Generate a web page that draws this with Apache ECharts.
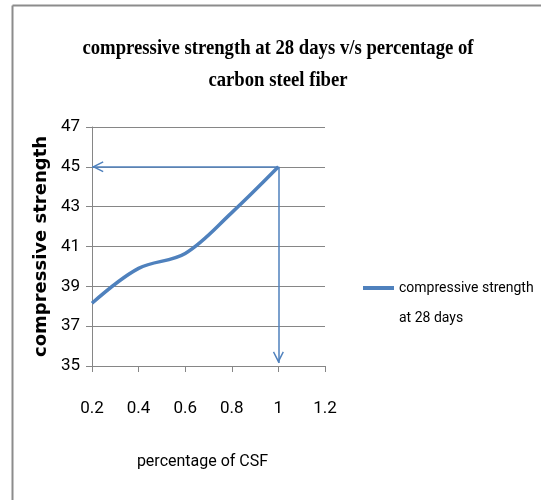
<!DOCTYPE html>
<html>
<head>
<meta charset="utf-8">
<script src="https://cdn.jsdelivr.net/npm/echarts@6/dist/echarts.min.js"></script>
<style>
  html, body { margin: 0; padding: 0; background: #fff; }
  #main { width: 541px; height: 500px; }
</style>
</head>
<body>
<div id="main"></div>
<script>
// percentage of carbon steel fiber vs compressive strength at 28 days
var csf = [0.2, 0.4, 0.6, 0.8, 1.0];
var strength = [38.15, 39.9, 40.65, 42.7, 45.0];
var seriesName = 'compressive strength at 28 days';
var pickX = 1.0, pickY = 45;

var blue = '#4F81BD';
var narrow = 'Roboto, "Liberation Sans", sans-serif';
// open arrow head, tip in the middle of the box so it lands on the line end
var openArrow = 'path://M5,0 L5.01,0 Z M5,11.35 L10,22.35 L8.9,23 L5,14.65 L1.1,23 L0,22.35 Z';
// legend line sits at the top of a taller (empty) box so it lines up with the first text line
var legendIcon = 'path://M0,0 L31,0 L31,4 L0,4 Z M0,34 L0.01,34 L0,34 Z';

var myChart = echarts.init(document.getElementById('main'));

var option = {
    backgroundColor: '#fff',
    animation: false,
    graphic: [
        { type: 'line', shape: { x1: 12.5, y1: 5.5, x2: 541, y2: 5.5 }, style: { stroke: '#8c8c8c', lineWidth: 2 } },
        { type: 'line', shape: { x1: 12.5, y1: 5.5, x2: 12.5, y2: 500 }, style: { stroke: '#8c8c8c', lineWidth: 2 } },
        {
            type: 'text', x: 278, y: 48, scaleX: 0.85,
            style: {
                x: 0, y: 0,
                text: 'compressive strength at 28 days v/s percentage of',
                font: 'bold 22px "Liberation Serif", serif',
                fill: '#000', align: 'center', verticalAlign: 'middle'
            }
        },
        {
            type: 'text', x: 278, y: 80, scaleX: 0.85,
            style: {
                x: 0, y: 0,
                text: 'carbon steel fiber',
                font: 'bold 22px "Liberation Serif", serif',
                fill: '#000', align: 'center', verticalAlign: 'middle'
            }
        }
    ],
    grid: { left: 92, right: 216, top: 127, bottom: 134 },
    legend: {
        left: 358, top: 268,
        itemWidth: 31, itemHeight: 34, itemGap: 0,
        icon: legendIcon,
        formatter: function () { return 'compressive strength\nat 28 days'; },
        textStyle: { fontFamily: narrow, fontSize: 14, color: '#000', lineHeight: 30 },
        data: [seriesName]
    },
    xAxis: {
        type: 'value', min: 0.2, max: 1.2, interval: 0.2,
        name: 'percentage of CSF', nameLocation: 'middle', nameGap: 88,
        nameTextStyle: { fontFamily: narrow, fontSize: 16, color: '#000', padding: [0, 12, 0, 0] },
        axisLine: { lineStyle: { color: '#868686' } },
        axisTick: { show: true, length: 6, lineStyle: { color: '#868686' } },
        axisLabel: {
            margin: 34, color: '#000', fontSize: 17, fontFamily: narrow,
            formatter: function (v) { return String(Math.round(v * 10) / 10); }
        },
        splitLine: { show: false }
    },
    yAxis: {
        type: 'value', min: 35, max: 47, interval: 2,
        name: 'compressive strength', nameLocation: 'middle', nameGap: 42,
        nameTextStyle: { fontFamily: '"DejaVu Sans", sans-serif', fontWeight: 'bold', fontSize: 18, color: '#000' },
        axisLine: { show: true, lineStyle: { color: '#868686' } },
        axisTick: { show: true, length: 6, lineStyle: { color: '#868686' } },
        axisLabel: { margin: 12, color: '#000', fontSize: 17, fontFamily: narrow },
        splitLine: { lineStyle: { color: '#868686' } }
    },
    series: [{
        name: seriesName,
        type: 'line',
        smooth: 0.35,
        showSymbol: false,
        symbol: 'none',
        lineStyle: { color: blue, width: 3.5 },
        itemStyle: { color: blue },
        data: csf.map(function (x, i) { return [x, strength[i]]; }),
        markLine: {
            silent: true,
            symbol: ['none', openArrow],
            symbolSize: [11, 23],
            label: { show: false },
            lineStyle: { color: blue, width: 1.5, type: 'solid' },
            data: [
                [{ coord: [pickX, pickY] }, { coord: [csf[0], pickY] }],
                [{ coord: [pickX, pickY] }, { coord: [pickX, 35.15] }]
            ]
        }
    }]
};

myChart.setOption(option);
</script>
</body>
</html>
